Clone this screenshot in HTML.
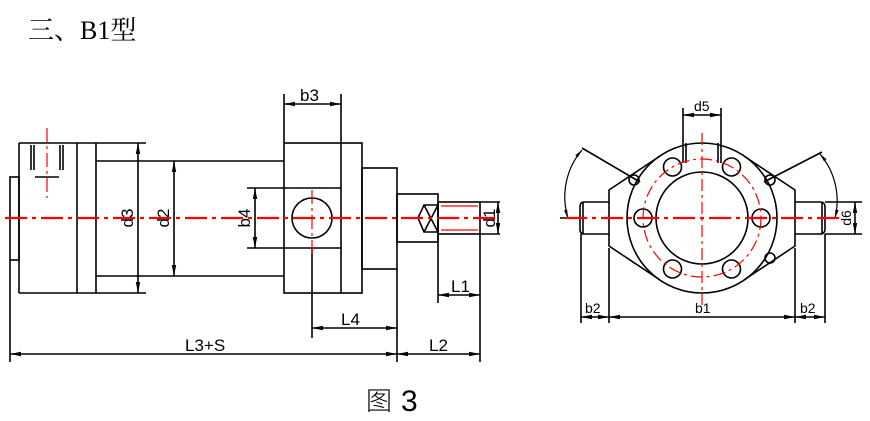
<!DOCTYPE html>
<html><head><meta charset="utf-8"><style>
html,body{margin:0;padding:0;background:#fff;width:870px;height:421px;overflow:hidden}
svg{display:block}
text{font-family:"Liberation Sans","Noto Sans CJK SC",sans-serif;fill:#000}
</style></head><body>
<svg width="870" height="421" viewBox="0 0 870 421" xmlns="http://www.w3.org/2000/svg">
<defs>
<marker id="a" viewBox="0 0 10 10" refX="10" refY="5" markerWidth="7" markerHeight="7" orient="auto-start-reverse"><path d="M0,3 L10,5 L0,7z" fill="#000"/></marker>
</defs>
<text x="28" y="39" font-size="26" style="font-family:'Liberation Serif','Noto Serif CJK SC',serif">三、B1型</text>
<text x="366" y="410" font-size="26" style="font-family:'Noto Sans CJK SC',sans-serif;font-weight:300">图</text>
<text x="401" y="411" font-size="30" style="font-weight:300">3</text>

<g stroke="#000" stroke-width="1.6" fill="none">
<rect x="10" y="177" width="9" height="83"/>
<line x1="19" y1="143" x2="146" y2="143"/>
<line x1="19" y1="293" x2="146" y2="293"/>
<line x1="19" y1="143" x2="19" y2="293"/>
<line x1="77" y1="143" x2="77" y2="293"/>
<line x1="96" y1="143" x2="96" y2="293"/>
<line x1="96" y1="161" x2="284" y2="161"/>
<line x1="96" y1="276" x2="284" y2="276"/>
<line x1="31" y1="145" x2="31" y2="170"/><line x1="34" y1="145" x2="34" y2="170"/>
<line x1="60" y1="145" x2="60" y2="170"/><line x1="63" y1="145" x2="63" y2="170"/>
<line x1="35" y1="177" x2="59" y2="177"/>
<rect x="284" y="143" width="78" height="150"/>
<line x1="341" y1="143" x2="341" y2="293"/>
<line x1="247" y1="188" x2="341" y2="188"/>
<line x1="247" y1="248" x2="341" y2="248"/>
<circle cx="312" cy="218" r="20"/>
<rect x="362" y="168" width="35" height="101"/>
<rect x="397" y="194" width="41" height="48"/>
<rect x="438" y="202" width="42" height="32"/>
<path d="M424,205 L438,205 L438,232 L424,232 L418,218 Z M424,205 L438,232 M438,205 L424,232"/>
<line x1="138" y1="143" x2="138" y2="293" marker-start="url(#a)" marker-end="url(#a)"/>
<line x1="174" y1="161" x2="174" y2="276" marker-start="url(#a)" marker-end="url(#a)"/>
<line x1="255" y1="188" x2="255" y2="248" marker-start="url(#a)" marker-end="url(#a)"/>
<line x1="284" y1="94" x2="284" y2="143"/><line x1="341" y1="94" x2="341" y2="143"/>
<line x1="284" y1="104" x2="341" y2="104" marker-start="url(#a)" marker-end="url(#a)"/>
<line x1="10" y1="260" x2="10" y2="362"/>
<line x1="397" y1="269" x2="397" y2="362"/>
<line x1="480" y1="234" x2="480" y2="362"/>
<line x1="438" y1="234" x2="438" y2="303"/>
<line x1="312" y1="248" x2="312" y2="338"/>
<line x1="480" y1="202" x2="500" y2="202"/><line x1="480" y1="234" x2="500" y2="234"/>
<line x1="498" y1="202" x2="498" y2="234" marker-start="url(#a)" marker-end="url(#a)"/>
<line x1="438" y1="295" x2="480" y2="295" marker-start="url(#a)" marker-end="url(#a)"/>
<line x1="312" y1="328" x2="397" y2="328" marker-start="url(#a)" marker-end="url(#a)"/>
<line x1="10" y1="354" x2="397" y2="354" marker-start="url(#a)" marker-end="url(#a)"/>
<line x1="397" y1="354" x2="480" y2="354" marker-start="url(#a)" marker-end="url(#a)"/>
</g>
<g stroke="red" stroke-width="1.2" fill="none">
<line x1="441" y1="206" x2="478" y2="206"/><line x1="441" y1="230" x2="478" y2="230"/>
</g>
<g stroke="red" stroke-width="2.2" fill="none" stroke-dasharray="22,5,4,5">
<line x1="5" y1="218" x2="500" y2="218"/>
</g>
<g stroke="red" stroke-width="1.2" fill="none" stroke-dasharray="14,4,3,4">
<line x1="47" y1="128" x2="47" y2="198"/>
<line x1="312" y1="190" x2="312" y2="256"/>
</g>
<g font-size="17">
<text x="300" y="101">b3</text>
<text x="451" y="292">L1</text>
<text x="341" y="325">L4</text>
<text x="185" y="351">L3+S</text>
<text x="429" y="351">L2</text>
<text transform="translate(133,218) rotate(-90)" text-anchor="middle">d3</text>
<text transform="translate(169,218) rotate(-90)" text-anchor="middle">d2</text>
<text transform="translate(250,218) rotate(-90)" text-anchor="middle">b4</text>
<text transform="translate(495,218) rotate(-90)" text-anchor="middle">d1</text>
</g>

<g stroke="#000" stroke-width="1.6" fill="none">
<path d="M660,156 L609,190 L609,246 L660,280 M744,156 L795,190 L795,246 L744,280"/>
<circle cx="702" cy="218" r="75"/>
<circle cx="702" cy="218" r="46"/>
<path d="M609,202 L584,202 Q580,202 580,207 L580,229 Q580,234 584,234 L609,234"/>
<line x1="583" y1="202" x2="583" y2="234"/>
<path d="M795,202 L820,202 Q825,202 825,207 L825,229 Q825,234 820,234 L795,234"/>
<line x1="822" y1="202" x2="822" y2="234"/>
<circle cx="643" cy="218" r="9"/><circle cx="761" cy="218" r="9"/>
<circle cx="672.5" cy="167" r="9"/><circle cx="731.5" cy="167" r="9"/>
<circle cx="672.5" cy="269" r="9"/><circle cx="731.5" cy="269" r="9"/>
<circle cx="634" cy="180" r="5"/><circle cx="770" cy="180" r="5"/><circle cx="770" cy="258" r="5"/>
<line x1="683" y1="108" x2="683" y2="163"/><line x1="721" y1="108" x2="721" y2="163"/>
<line x1="686" y1="143" x2="686" y2="163"/><line x1="718" y1="143" x2="718" y2="163"/>
<line x1="683" y1="115" x2="721" y2="115" marker-start="url(#a)" marker-end="url(#a)"/>
<line x1="581" y1="234" x2="581" y2="323"/><line x1="609" y1="248" x2="609" y2="323"/>
<line x1="795" y1="248" x2="795" y2="323"/><line x1="825" y1="234" x2="825" y2="323"/>
<line x1="581" y1="317" x2="609" y2="317" marker-start="url(#a)" marker-end="url(#a)"/>
<line x1="609" y1="317" x2="795" y2="317" marker-start="url(#a)" marker-end="url(#a)"/>
<line x1="795" y1="317" x2="825" y2="317" marker-start="url(#a)" marker-end="url(#a)"/>
<line x1="825" y1="202" x2="862" y2="202"/><line x1="825" y1="234" x2="862" y2="234"/>
<line x1="855" y1="202" x2="855" y2="234" marker-start="url(#a)" marker-end="url(#a)"/>
<line x1="582" y1="148" x2="640" y2="182"/>
<line x1="822" y1="152" x2="764" y2="182"/>
<path d="M582,150 A72,72 0 0 0 568,218" stroke-width="1.2" marker-start="url(#a)" marker-end="url(#a)"/>
<path d="M820,154 A72,72 0 0 1 835,218" stroke-width="1.2" marker-start="url(#a)" marker-end="url(#a)"/>
<line x1="560" y1="218" x2="580" y2="218"/>
</g>
<g stroke="red" stroke-width="1.2" fill="none" stroke-dasharray="12,4,3,4">
<circle cx="702" cy="218" r="59"/>
<line x1="702" y1="133" x2="702" y2="305"/>
</g>
<g stroke="red" stroke-width="2.2" stroke-dasharray="22,5,4,5">
<line x1="565" y1="218" x2="840" y2="218"/>
</g>
<g font-size="14">
<text x="694" y="111">d5</text>
<text x="585" y="313">b2</text>
<text x="695" y="313">b1</text>
<text x="800" y="313">b2</text>
<text transform="translate(851,218) rotate(-90)" text-anchor="middle">d6</text>
</g>
</svg>
</body></html>
